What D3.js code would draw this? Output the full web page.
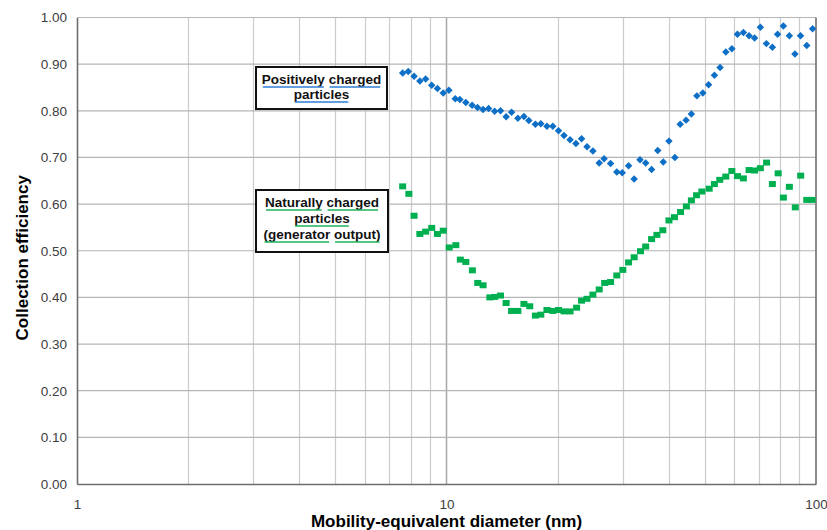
<!DOCTYPE html>
<html>
<head>
<meta charset="utf-8">
<script src="https://cdn.jsdelivr.net/npm/d3@7"></script>
<style>
  body { margin: 0; background: #fff; }
  svg { display: block; font-family: "Liberation Sans", Arial, sans-serif; }
</style>
</head>
<body>
<div id="chart"></div>
<script>
// mobility-equivalent diameter (nm) and collection efficiency
const positiveDiameter = [7.61, 7.88, 8.17, 8.47, 8.78, 9.12, 9.45, 9.8, 10.15, 10.56, 10.87, 11.28, 11.73, 12.13, 12.56, 13.0, 13.5, 14.0,
    14.5, 15.0, 15.6, 16.2, 16.7, 17.4, 18.0, 18.7, 19.4, 20.1, 20.8, 21.6, 22.4, 23.2, 24.0, 24.9, 25.9, 26.7, 27.8, 28.9,
    29.9, 31.1, 32.2, 33.4, 34.6, 35.9, 37.3, 38.6, 40.0, 41.5, 42.9, 44.5, 46.0, 47.6, 49.4, 51.2, 53.1, 55.0, 57.0, 59.2,
    61.3, 63.6, 65.9, 68.2, 70.7, 73.4, 76.2, 78.7, 81.6, 84.7, 87.7, 90.8, 94.4, 97.9];
const positiveEfficiency = [0.881, 0.884, 0.874, 0.864, 0.868, 0.855, 0.848, 0.838, 0.844, 0.826, 0.824, 0.818, 0.812, 0.807, 0.803, 0.805, 0.799, 0.800,
    0.787, 0.797, 0.784, 0.788, 0.779, 0.771, 0.772, 0.767, 0.767, 0.757, 0.747, 0.738, 0.730, 0.740, 0.723, 0.714, 0.688, 0.697, 0.687, 0.669,
    0.667, 0.682, 0.654, 0.695, 0.688, 0.674, 0.715, 0.690, 0.735, 0.700, 0.771, 0.780, 0.793, 0.832, 0.838, 0.856, 0.876, 0.893, 0.926, 0.933,
    0.964, 0.968, 0.961, 0.956, 0.979, 0.944, 0.936, 0.964, 0.982, 0.961, 0.922, 0.961, 0.940, 0.976];

const naturalDiameter = [7.61, 7.91, 8.17, 8.47, 8.78, 9.12, 9.45, 9.8, 10.17, 10.6, 10.9, 11.28, 11.75, 12.15, 12.56, 13.1, 13.5, 14.0,
    14.5, 15.0, 15.6, 16.2, 16.8, 17.4, 18.0, 18.7, 19.4, 20.1, 20.8, 21.6, 22.5, 23.2, 24.0, 24.9, 25.9, 26.8, 27.8, 28.9,
    30.0, 31.1, 32.2, 33.5, 34.6, 35.9, 37.1, 38.5, 40.0, 41.4, 43.0, 44.6, 46.0, 47.5, 49.1, 51.4, 53.1, 54.9, 57.0, 59.2,
    61.3, 63.6, 65.9, 68.2, 70.7, 73.5, 76.2, 79.0, 81.6, 84.7, 87.9, 90.9, 94.4, 97.6];
const naturalEfficiency = [0.638, 0.622, 0.575, 0.536, 0.541, 0.549, 0.536, 0.543, 0.507, 0.512, 0.481, 0.476, 0.458, 0.431, 0.426, 0.400, 0.401, 0.404,
    0.388, 0.371, 0.371, 0.386, 0.381, 0.361, 0.363, 0.373, 0.371, 0.373, 0.370, 0.370, 0.378, 0.393, 0.397, 0.406, 0.417, 0.431, 0.433, 0.447,
    0.459, 0.475, 0.486, 0.499, 0.509, 0.525, 0.534, 0.544, 0.565, 0.572, 0.583, 0.595, 0.608, 0.619, 0.627, 0.633, 0.643, 0.652, 0.659, 0.671,
    0.660, 0.655, 0.673, 0.672, 0.677, 0.689, 0.643, 0.666, 0.614, 0.637, 0.593, 0.661, 0.609, 0.609];

const xTickLabels = [1, 10, 100];
const yTicks = [0, 0.1, 0.2, 0.3, 0.4, 0.5, 0.6, 0.7, 0.8, 0.9, 1.0];

const positiveLabel = ['Positively charged', 'particles'];
const naturalLabel = ['Naturally charged', 'particles', '(generator output)'];

const W = 827, H = 530;
const margin = { top: 17.5, right: 11, bottom: 46, left: 77 };

const svg = d3.select('#chart')
    .append('svg')
    .attr('width', W)
    .attr('height', H);

const xScale = d3.scaleLog()
    .domain([1, 100])
    .range([margin.left, W - margin.right]);

const yScale = d3.scaleLinear()
    .domain([0, 1])
    .range([H - margin.bottom, margin.top]);

// gridlines
const minorX = xScale.ticks().filter(d => !xTickLabels.includes(d));
svg.append('g')
    .selectAll('line')
    .data(minorX)
    .join('line')
    .attr('x1', d => Math.round(xScale(d)) + 0.5)
    .attr('x2', d => Math.round(xScale(d)) + 0.5)
    .attr('y1', yScale(0))
    .attr('y2', yScale(1))
    .attr('stroke', '#cccccc')
    .attr('stroke-width', 1.2);

svg.append('line')
    .attr('x1', xScale(10)).attr('x2', xScale(10))
    .attr('y1', yScale(0)).attr('y2', yScale(1))
    .attr('stroke', '#a8a8a8')
    .attr('stroke-width', 1.5);

svg.append('g')
    .selectAll('line')
    .data(yTicks.slice(1))
    .join('line')
    .attr('x1', xScale(1))
    .attr('x2', xScale(100))
    .attr('y1', d => yScale(d))
    .attr('y2', d => yScale(d))
    .attr('stroke', '#b5b5b5')
    .attr('stroke-width', 1.2);

// axes
const yAxis = svg.append('g')
    .attr('transform', `translate(${margin.left}, 0)`)
    .call(d3.axisLeft(yScale).tickValues(yTicks).tickFormat(d3.format('.2f')).tickSize(0).tickPadding(10));

const xAxis = svg.append('g')
    .attr('transform', `translate(0, ${yScale(0)})`)
    .call(d3.axisBottom(xScale).tickValues(xTickLabels).tickFormat(d3.format('d')).tickSize(0).tickPadding(15));

[xAxis, yAxis].forEach(a => {
    a.select('.domain').attr('stroke', '#6e6e6e').attr('stroke-width', 1.6);
    a.selectAll('text')
        .attr('fill', '#404040')
        .style('font-size', '13.5px')
        .style('font-family', '"Liberation Sans", Arial, sans-serif');
});

svg.append('line')
    .attr('x1', xScale(100)).attr('x2', xScale(100))
    .attr('y1', yScale(0)).attr('y2', yScale(1))
    .attr('stroke', '#6e6e6e')
    .attr('stroke-width', 1.6);

// axis titles
svg.append('text')
    .attr('x', xScale(10))
    .attr('y', 527)
    .attr('text-anchor', 'middle')
    .style('font-size', '17px')
    .style('font-weight', 'bold')
    .text('Mobility-equivalent diameter (nm)');

svg.append('text')
    .attr('transform', `translate(28, ${yScale(0.485)}) rotate(-90)`)
    .attr('text-anchor', 'middle')
    .style('font-size', '17px')
    .style('font-weight', 'bold')
    .text('Collection efficiency');

// data markers
svg.append('g')
    .selectAll('path')
    .data(positiveDiameter.map((d, i) => [d, positiveEfficiency[i]]))
    .join('path')
    .attr('transform', d => `translate(${xScale(d[0])}, ${yScale(d[1])}) rotate(45)`)
    .attr('d', d3.symbol(d3.symbolSquare, 28))
    .attr('fill', '#0e6fc6');

svg.append('g')
    .selectAll('rect')
    .data(naturalDiameter.map((d, i) => [d, naturalEfficiency[i]]))
    .join('rect')
    .attr('x', d => xScale(d[0]) - 3.5)
    .attr('y', d => yScale(d[1]) - 3)
    .attr('width', 7)
    .attr('height', 6)
    .attr('fill', '#00b050');

// label boxes, each word with its own coloured underline
const labelBox = (lines, x, y, w, h, baselines, lineColor) => {
    const g = svg.append('g');
    g.append('rect')
        .attr('x', x).attr('y', y)
        .attr('width', w).attr('height', h)
        .attr('fill', '#fff')
        .attr('stroke', '#111')
        .attr('stroke-width', 2);
    lines.forEach((line, i) => {
        const t = g.append('text')
            .attr('x', x + w / 2)
            .attr('y', baselines[i])
            .attr('text-anchor', 'middle')
            .style('font-size', '13.5px')
            .style('font-weight', 'bold')
            .attr('fill', '#111');
        line.split(' ').forEach((word, j) => {
            t.append('tspan').text((j ? ' ' : '') + word);
        });
        t.selectAll('tspan').each(function (d, j) {
            const n = this.getNumberOfChars();
            const start = this.getStartPositionOfChar(j ? 1 : 0).x;
            const end = this.getEndPositionOfChar(n - 1).x;
            g.append('line')
                .attr('x1', start + 1).attr('x2', end - 1)
                .attr('y1', baselines[i] + 3).attr('y2', baselines[i] + 3)
                .attr('stroke', lineColor)
                .attr('stroke-width', 1.4);
        });
    });
};

labelBox(positiveLabel, 256, 67, 131, 42, [84, 99], '#2f7fd6');
labelBox(naturalLabel, 256, 190, 132, 62, [207, 223, 239], '#1fb25a');
</script>
</body>
</html>
